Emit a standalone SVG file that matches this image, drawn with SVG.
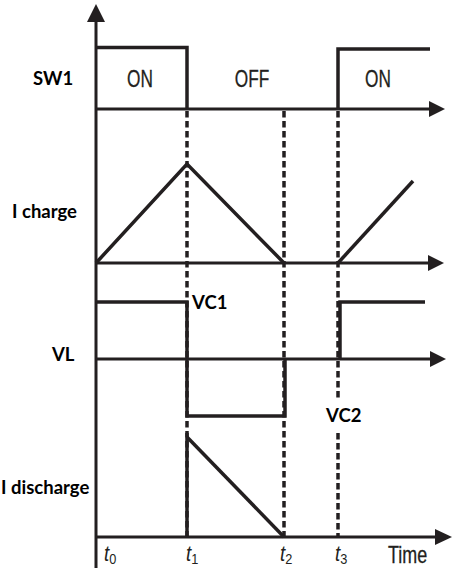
<svg xmlns="http://www.w3.org/2000/svg" width="473" height="584" viewBox="0 0 473 584">
<style>
.ax{stroke:#231f20;stroke-width:3;fill:none}
.sig{stroke:#231f20;stroke-width:3.5;fill:none;stroke-linejoin:miter}
.dash{stroke:#231f20;stroke-width:3.5;stroke-dasharray:6.5 3.5;fill:none}
.lbl{font-family:Lato,"Liberation Sans",sans-serif;font-weight:bold;font-size:18.5px;fill:#000}
.st{font-family:"Liberation Sans",Arial,sans-serif;font-size:23px;fill:#231f20;stroke:#231f20;stroke-width:0.3}
.tt{font-family:"Liberation Sans",sans-serif;font-style:italic;font-size:22px;fill:#231f20}
.arr{fill:#231f20}
</style>
<rect width="473" height="584" fill="#fff"/>
<g id="connectors">
<line class="ax" x1="96" y1="18" x2="96" y2="568"/>
<polygon class="arr" points="96,4 87,22 105,22"/>
<line class="ax" x1="96" y1="109" x2="430" y2="109"/>
<polygon class="arr" points="445,109 429,101 429,117"/>
<line class="ax" x1="96" y1="263" x2="428" y2="263"/>
<polygon class="arr" points="444,263 428,255 428,271"/>
<line class="ax" x1="96" y1="359" x2="430" y2="359"/>
<polygon class="arr" points="446,359 430,351 430,367"/>
<line class="ax" x1="96" y1="537" x2="436" y2="537"/>
<polygon class="arr" points="452,537 435,529 435,545"/>
<line class="dash" x1="187" y1="111" x2="187" y2="537"/>
<line class="dash" x1="284" y1="111" x2="284" y2="537"/>
<line class="dash" x1="338" y1="111" x2="338" y2="400"/>
<line class="dash" x1="338" y1="433" x2="338" y2="537"/>
</g>
<g id="sw1">
<polyline class="sig" points="96,47.5 187,47.5 187,109"/>
<polyline class="sig" points="338,109 338,49 430,49"/>
<text class="lbl" x="33" y="85">SW1</text>
<text class="st" transform="translate(140,86.5) scale(0.75,1)" text-anchor="middle">ON</text>
<text class="st" transform="translate(252,86.5) scale(0.75,1)" text-anchor="middle">OFF</text>
<text class="st" transform="translate(378,86.5) scale(0.75,1)" text-anchor="middle">ON</text>
</g>
<g id="icharge">
<polyline class="sig" points="96,263 187,164 284,263"/>
<line class="sig" x1="338" y1="263" x2="413" y2="181"/>
<text class="lbl" x="12" y="218">I charge</text>
</g>
<g id="vl">
<polyline class="sig" points="96,302 187,302 187,416 285,416 285,359"/>
<polyline class="sig" points="340,359 340,302 425,302"/>
<text class="lbl" x="52" y="361">VL</text>
<text class="lbl" x="192" y="309">VC1</text>
<text class="lbl" x="326" y="422">VC2</text>
</g>
<g id="idischarge">
<line class="sig" x1="187" y1="433" x2="187" y2="537"/>
<line class="sig" x1="187" y1="437" x2="284" y2="537"/>
<text class="lbl" x="1" y="494">I discharge</text>
</g>
<g id="time">
<text class="tt" transform="translate(104,561) scale(0.85,1)">t<tspan font-size="15" dy="3" font-style="normal">0</tspan></text>
<text class="tt" transform="translate(186,561) scale(0.85,1)">t<tspan font-size="15" dy="3" font-style="normal">1</tspan></text>
<text class="tt" transform="translate(280,561) scale(0.85,1)">t<tspan font-size="15" dy="3" font-style="normal">2</tspan></text>
<text class="tt" transform="translate(335,561) scale(0.85,1)">t<tspan font-size="15" dy="3" font-style="normal">3</tspan></text>
<text class="st" transform="translate(388,563) scale(0.78,1)">Time</text>
</g>
</svg>
